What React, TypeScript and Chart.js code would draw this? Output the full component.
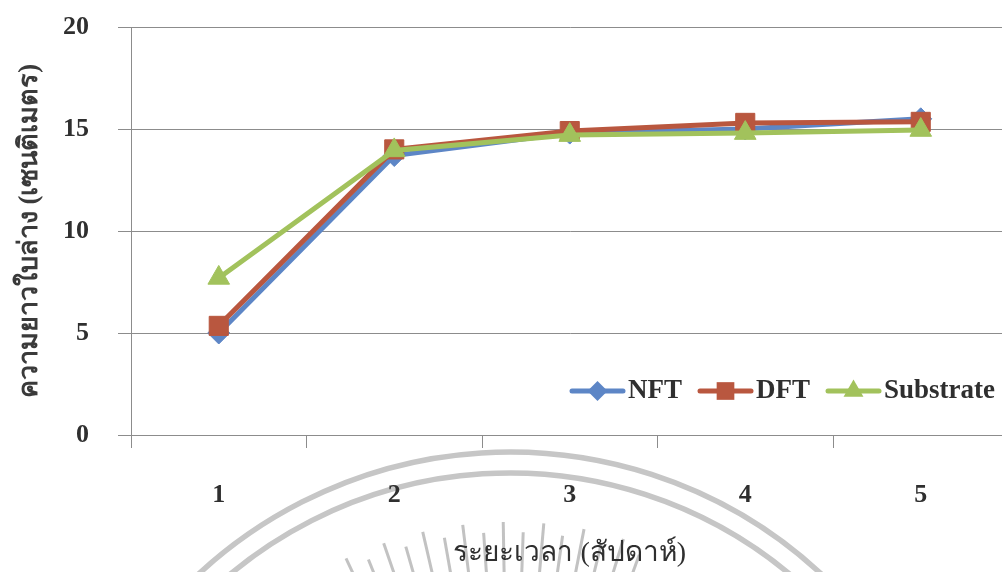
import React, { useEffect, useRef } from "react";
import { Chart, registerables } from "chart.js";

Chart.register(...registerables);

// Leaf length per week for the three growing systems
const weeks = ["1", "2", "3", "4", "5"];
const nftLength = [5.0, 13.7, 14.8, 15.0, 15.5];
const dftLength = [5.35, 14.0, 14.9, 15.3, 15.35];
const substrateLength = [7.7, 13.95, 14.7, 14.8, 14.95];
const yTicks = [0, 5, 10, 15, 20];

const seriesNames = ["NFT", "DFT", "Substrate"];
const seriesColors = ["#5D86C6", "#B9573F", "#A2C25C"];
const seriesMarkers = ["rectRot", "rect", "triangle"];
const markerRadius = [11, 13.5, 12.5];

const yTitle = "ความยาวใบล่าง (เซนติเมตร)";
const xTitle = "ระยะเวลา (สัปดาห์)";

const SERIF = '"Liberation Serif", "Times New Roman", serif';
const TEXT = "#2f2f2f";
const GRID = "#8c8c8c";

function markerPath(ctx: CanvasRenderingContext2D, kind: string, x: number, y: number, r: number) {
  ctx.beginPath();
  if (kind === "rectRot") {
    ctx.moveTo(x, y - r);
    ctx.lineTo(x + r, y);
    ctx.lineTo(x, y + r);
    ctx.lineTo(x - r, y);
  } else if (kind === "rect") {
    const s = r * Math.SQRT1_2;
    ctx.rect(x - s, y - s, 2 * s, 2 * s);
  } else {
    const a = (2 * Math.PI) / 3;
    ctx.moveTo(x, y - r);
    ctx.lineTo(x + Math.sin(a) * r, y - Math.cos(a) * r);
    ctx.lineTo(x + Math.sin(2 * a) * r, y - Math.cos(2 * a) * r);
  }
  ctx.closePath();
}

// Faint emblem printed behind the plot
const emblemPlugin = {
  id: "emblem",
  beforeDraw(chart: Chart) {
    const ctx = chart.ctx;
    const cx = 510;
    const cy = 910;
    ctx.save();
    ctx.strokeStyle = "#c6c6c6";
    ctx.lineWidth = 5.5;
    [458, 437].forEach((R) => {
      ctx.beginPath();
      ctx.arc(cx, cy, R, Math.PI * 1.1, Math.PI * 1.9);
      ctx.stroke();
    });
    ctx.lineWidth = 3;
    ctx.strokeStyle = "#c2c2c2";
    for (let i = 0; i < 16; i++) {
      const deg = -25 + i * 3;
      const rad = (deg * Math.PI) / 180;
      const tip = i % 2 === 0 ? 388 : 378;
      ctx.beginPath();
      ctx.moveTo(cx + Math.sin(rad) * 300, cy - Math.cos(rad) * 300);
      ctx.lineTo(cx + Math.sin(rad) * tip, cy - Math.cos(rad) * tip);
      ctx.stroke();
    }
    ctx.restore();
  },
};

// Legend with a line stub and marker, placed inside the plot area
const lineLegendPlugin = {
  id: "lineLegend",
  afterDraw(chart: Chart) {
    const ctx = chart.ctx;
    const y = 391;
    let x = 572;
    ctx.save();
    ctx.font = `bold 27px ${SERIF}`;
    ctx.textBaseline = "middle";
    ctx.textAlign = "left";
    seriesNames.forEach((name, i) => {
      ctx.strokeStyle = seriesColors[i];
      ctx.lineWidth = 5;
      ctx.lineCap = "round";
      ctx.beginPath();
      ctx.moveTo(x, y);
      ctx.lineTo(x + 51, y);
      ctx.stroke();
      markerPath(ctx, seriesMarkers[i], x + 25.5, y, markerRadius[i] - 1);
      ctx.fillStyle = seriesColors[i];
      ctx.fill();
      ctx.fillStyle = TEXT;
      ctx.fillText(name, x + 56, y);
      x = x + 56 + ctx.measureText(name).width + 18;
    });
    ctx.restore();
  },
};

export default function App() {
  const canvasRef = useRef<HTMLCanvasElement | null>(null);

  useEffect(() => {
    if (!canvasRef.current) return;
    const values = [nftLength, dftLength, substrateLength];
    const chart = new Chart(canvasRef.current, {
      type: "line",
      data: {
        labels: weeks,
        datasets: seriesNames.map((name, i) => ({
          label: name,
          data: values[i],
          borderColor: seriesColors[i],
          backgroundColor: seriesColors[i],
          borderWidth: 5,
          pointStyle: seriesMarkers[i] as any,
          pointRadius: markerRadius[i],
          pointBorderWidth: 1,
          pointBorderColor: seriesColors[i],
          pointBackgroundColor: seriesColors[i],
          tension: 0,
          order: 2 - i,
        })),
      },
      options: {
        responsive: false,
        animation: false,
        layout: { padding: { top: 27, right: 0, left: 0, bottom: 0 } },
        plugins: {
          legend: { display: false },
          tooltip: { enabled: false },
        },
        scales: {
          x: {
            type: "category",
            offset: true,
            grid: {
              offset: true,
              drawOnChartArea: false,
              drawTicks: true,
              tickLength: 13,
              color: GRID,
            },
            border: { display: true, color: GRID },
            ticks: {
              font: { family: SERIF, size: 26, weight: "bold" },
              color: TEXT,
              padding: 32,
            },
            title: {
              display: true,
              text: xTitle,
              font: { family: SERIF, size: 28 },
              color: TEXT,
              padding: { top: 0, bottom: 2 },
            },
            afterFit: (scale: any) => {
              scale.height = 137;
            },
          },
          y: {
            min: 0,
            max: 20,
            afterBuildTicks: (scale: any) => {
              scale.ticks = yTicks.map((v) => ({ value: v }));
            },
            grid: { color: GRID, tickLength: 13 },
            border: { display: true, color: GRID },
            ticks: {
              font: { family: SERIF, size: 26, weight: "bold" },
              color: TEXT,
              padding: 29,
            },
            title: {
              display: true,
              text: yTitle,
              font: { family: SERIF, size: 27, weight: "bold" },
              color: "#3a3a3a",
              padding: { top: 14, bottom: 0 },
            },
            afterFit: (scale: any) => {
              scale.width = 131;
              scale.paddingTop = 0;
              scale.paddingBottom = 0;
            },
          },
        },
      },
      plugins: [emblemPlugin, lineLegendPlugin],
    });
    return () => chart.destroy();
  }, []);

  return (
    <div
      style={{
        position: "fixed",
        left: 0,
        top: 0,
        width: 1002,
        height: 572,
        overflow: "hidden",
        background: "#ffffff",
      }}
    >
      <canvas ref={canvasRef} width={1023} height={572} style={{ display: "block" }} />
    </div>
  );
}
